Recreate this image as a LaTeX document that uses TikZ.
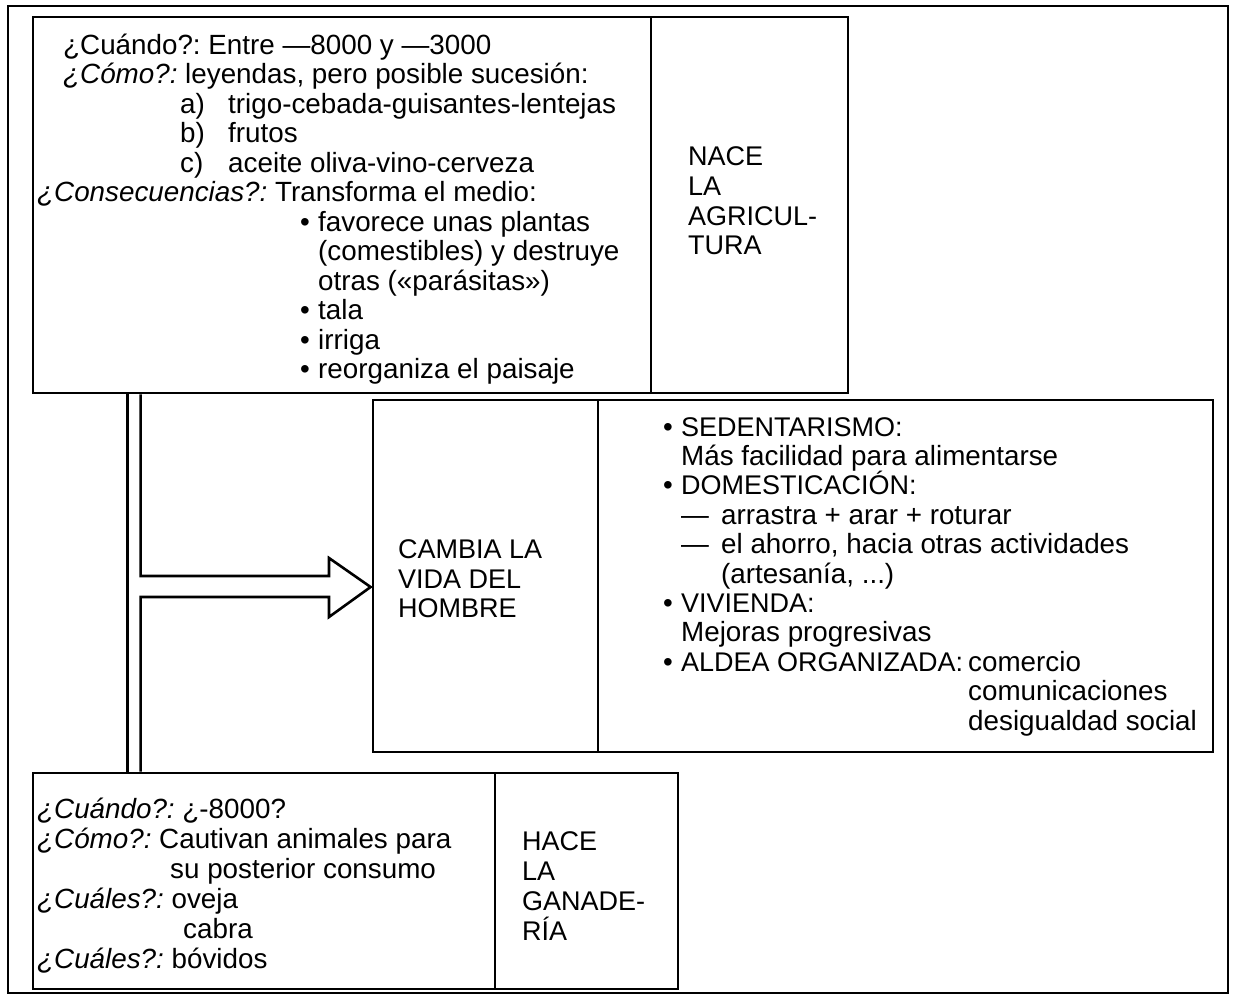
\documentclass[tikz,border=0pt]{standalone}
\usepackage{fontspec}
\setmainfont{Liberation Sans}
\usetikzlibrary{calc}
\frenchspacing
\begin{document}
\begin{tikzpicture}[x=1pt,y=-1pt,
  panel/.style={draw=black, line width=2.8pt, rectangle, inner sep=0pt},
  txt/.style={anchor=base west, inner sep=0pt, font=\fontsize{27.8}{29.5}\selectfont},
  captxt/.style={txt, font=\fontsize{27}{29.5}\selectfont},
  pipe/.style={draw=black, line width=2.6pt, line join=miter}]
\useasboundingbox (0,0) rectangle (1236,999);
\node[panel, minimum width=1220pt, minimum height=987pt] (outer) at (618,499.5) {};
% boxes
\node[panel, minimum width=618pt, minimum height=376pt] (topL) at (342,205) {};
\node[panel, minimum width=197pt, minimum height=376pt] (topR) at (749.5,205) {};
\node[panel, minimum width=225pt, minimum height=352pt] (midL) at (485.5,576) {};
\node[panel, minimum width=615pt, minimum height=352pt] (midR) at (905.5,576) {};
\node[panel, minimum width=462pt, minimum height=216pt] (botL) at (264,881) {};
\node[panel, minimum width=183pt, minimum height=216pt] (botR) at (586.5,881) {};
% connector pipe with arrow
\coordinate (pa) at ($(topL.south west)+(96,0)$);
\coordinate (pb) at ($(botL.north west)+(96,0)$);
\coordinate (qa) at ($(topL.south west)+(109,0)$);
\coordinate (qb) at ($(botL.north west)+(109,0)$);
\coordinate (tip) at ($(midL.west)+(-1,11)$);
\draw[pipe] (pa) -- (pb);
\draw[pipe] (qa) -- (qa |- 0,576) -- (329,576) -- (329,558) -- (tip) -- (329,617) -- (329,597) -- (qb |- 0,597) -- (qb);
% top box text
\node[txt] (t1) at (63,54) {¿Cuándo?: Entre —8000 y —3000};
\node[txt] (t2) at (63,83.5) {\textit{¿Cómo?:} leyendas, pero posible sucesión:};
\node[txt] (t3a) at (180,113) {a)};
\node[txt] (t3) at (228,113) {trigo-cebada-guisantes-lentejas};
\node[txt] (t4a) at (180,142.5) {b)};
\node[txt] (t4) at (228,142.5) {frutos};
\node[txt] (t5a) at (180,172) {c)};
\node[txt] (t5) at (228,172) {aceite oliva-vino-cerveza};
\node[txt] (t6) at (37,201.5) {\textit{¿Consecuencias?:} Transforma el medio:};
\node[txt] (t7b) at (300,231) {•};
\node[txt] (t7) at (318,231) {favorece unas plantas};
\node[txt] (t8) at (318,260.5) {(comestibles) y destruye};
\node[txt] (t9) at (318,290) {otras («parásitas»)};
\node[txt] (t10b) at (300,319.5) {•};
\node[txt] (t10) at (318,319.5) {tala};
\node[txt] (t11b) at (300,349) {•};
\node[txt] (t11) at (318,349) {irriga};
\node[txt] (t12b) at (300,378.5) {•};
\node[txt] (t12) at (318,378.5) {reorganiza el paisaje};
% NACE
\node[captxt] (n1) at (688,165) {NACE};
\node[captxt] (n2) at (688,195) {LA};
\node[captxt] (n3) at (688,225) {AGRICUL-};
\node[captxt] (n4) at (688,254) {TURA};
% CAMBIA
\node[captxt] (c1) at (398,558) {CAMBIA LA};
\node[captxt] (c2) at (398,588) {VIDA DEL};
\node[captxt] (c3) at (398,617) {HOMBRE};
% right middle
\node[txt] (r1b) at (663,436) {•};
\node[captxt] (r1) at (681,436) {SEDENTARISMO:};
\node[txt] (r2) at (681,465.4) {Más facilidad para alimentarse};
\node[txt] (r3b) at (663,494.8) {•};
\node[captxt] (r3) at (681,494.8) {DOMESTICACIÓN:};
\node[txt] (r4d) at (681,524.2) {—};
\node[txt] (r4) at (721,524.2) {arrastra + arar + roturar};
\node[txt] (r5d) at (681,553.6) {—};
\node[txt] (r5) at (721,553.6) {el ahorro, hacia otras actividades};
\node[txt] (r6) at (721,583) {(artesanía, ...)};
\node[txt] (r7b) at (663,612.4) {•};
\node[captxt] (r7) at (681,612.4) {VIVIENDA:};
\node[txt] (r8) at (681,641.8) {Mejoras progresivas};
\node[txt] (r9b) at (663,671.2) {•};
\node[captxt] (r9) at (681,671.2) {ALDEA ORGANIZADA:};
\node[txt] (r9c) at (968,671.2) {comercio};
\node[txt] (r10) at (968,700.6) {comunicaciones};
\node[txt] (r11) at (968,730) {desigualdad social};
% bottom box
\node[txt] (b1) at (37,818) {\textit{¿Cuándo?:} ¿-8000?};
\node[txt] (b2) at (37,848) {\textit{¿Cómo?:} Cautivan animales para};
\node[txt] (b3) at (170,878) {su posterior consumo};
\node[txt] (b4) at (37,908) {\textit{¿Cuáles?:} oveja};
\node[txt] (b5) at (183,938) {cabra};
\node[txt] (b6) at (37,968) {\textit{¿Cuáles?:} bóvidos};
% HACE
\node[captxt] (h1) at (522,850) {HACE};
\node[captxt] (h2) at (522,880) {LA};
\node[captxt] (h3) at (522,910) {GANADE-};
\node[captxt] (h4) at (522,940) {RÍA};
\end{tikzpicture}
\end{document}
